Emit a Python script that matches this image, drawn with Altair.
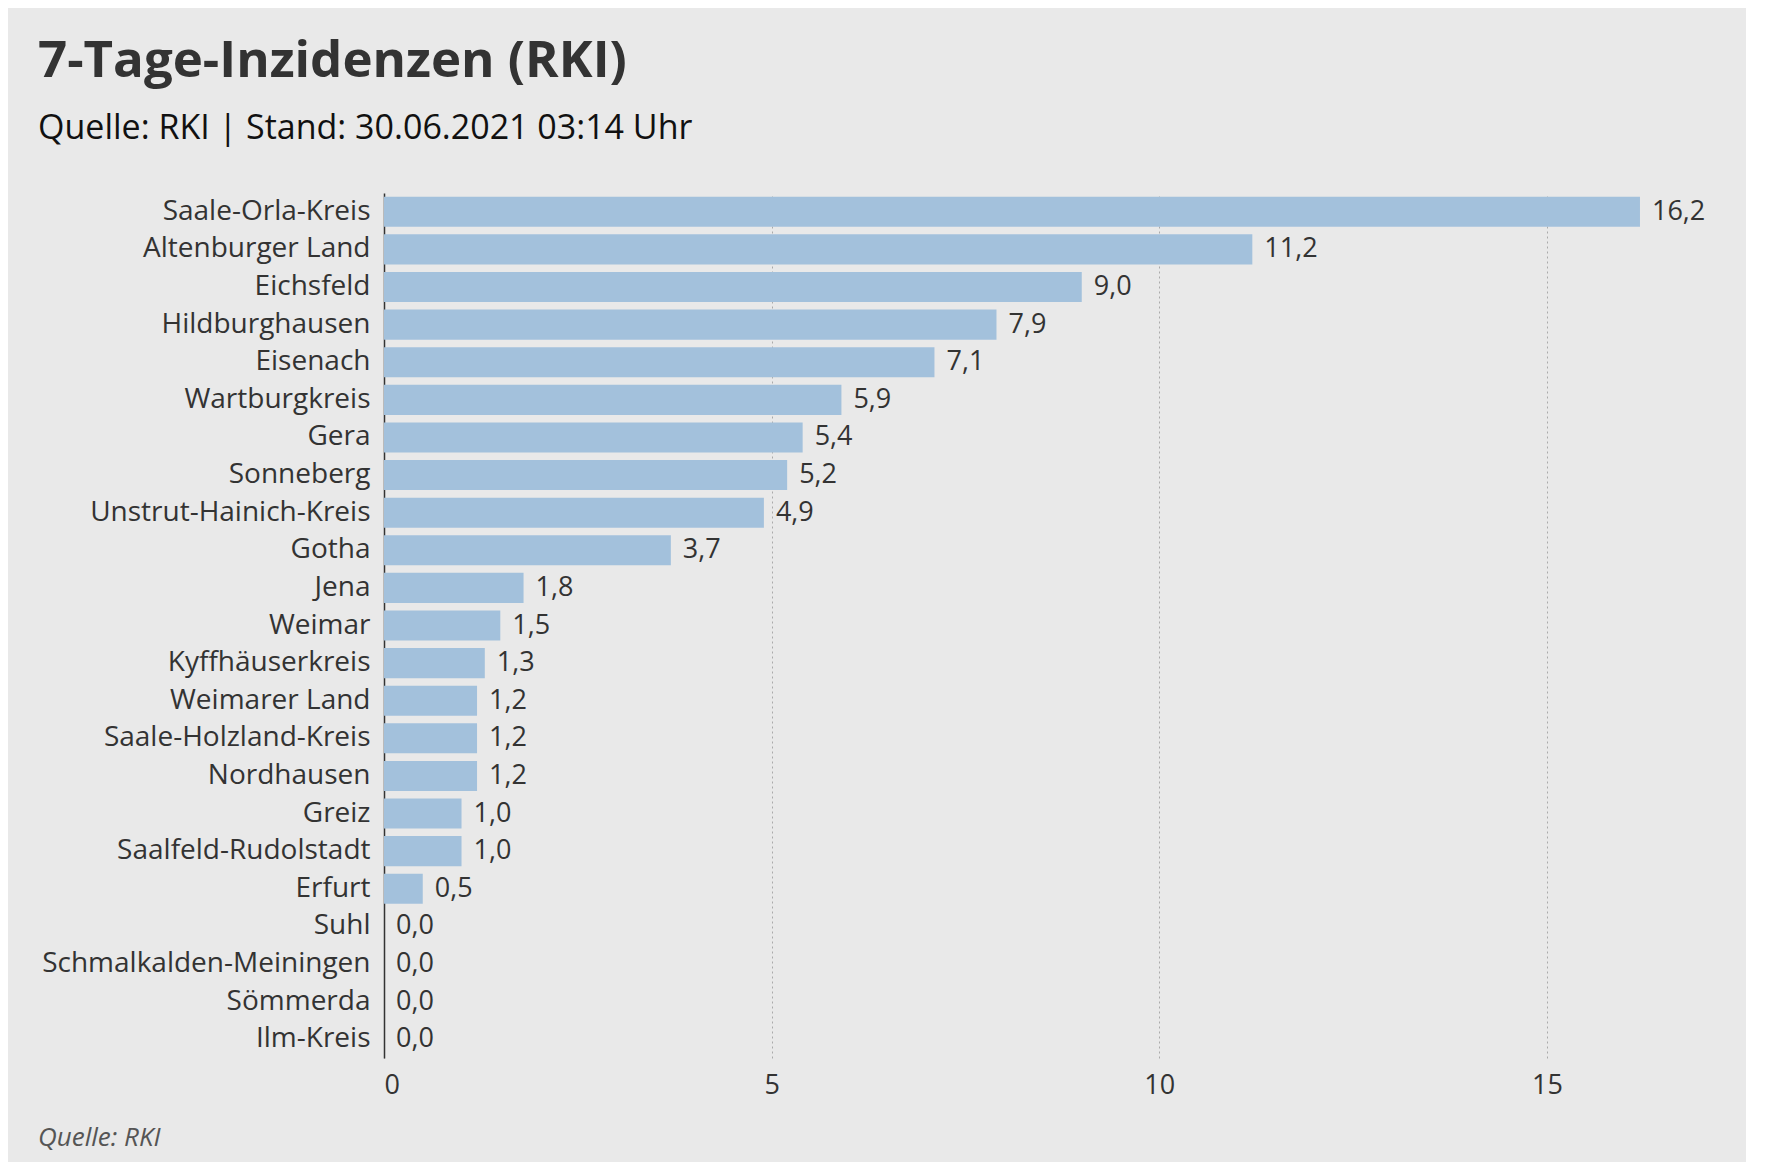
import altair as alt
import pandas as pd

kreise = ['Saale-Orla-Kreis', 'Altenburger Land', 'Eichsfeld', 'Hildburghausen', 'Eisenach',
          'Wartburgkreis', 'Gera', 'Sonneberg', 'Unstrut-Hainich-Kreis', 'Gotha', 'Jena',
          'Weimar', 'Kyffhäuserkreis', 'Weimarer Land', 'Saale-Holzland-Kreis', 'Nordhausen',
          'Greiz', 'Saalfeld-Rudolstadt', 'Erfurt', 'Suhl', 'Schmalkalden-Meiningen',
          'Sömmerda', 'Ilm-Kreis']
inzidenz = [16.2, 11.2, 9.0, 7.9, 7.1, 5.9, 5.4, 5.2, 4.9, 3.7, 1.8, 1.5, 1.3, 1.2, 1.2,
            1.2, 1.0, 1.0, 0.5, 0.0, 0.0, 0.0, 0.0]

df = pd.DataFrame({'kreis': kreise, 'wert': inzidenz})
df['label'] = [f'{v:.1f}'.replace('.', ',') for v in inzidenz]

FONT = 'Open Sans'

base = alt.Chart(df).encode(
    y=alt.Y('kreis:N', sort=kreise, title=None,
            scale=alt.Scale(paddingInner=0.2, paddingOuter=0.1),
            axis=alt.Axis(labelFontSize=28, labelColor='#333', labelLimit=600,
                          labelPadding=14, ticks=False, domainColor='#333',
                          domainWidth=1.5)),
)

bars = base.mark_bar(color='#a3c1dc').encode(
    x=alt.X('wert:Q', title=None, scale=alt.Scale(domain=[0, 17], nice=False),
            axis=alt.Axis(values=[0, 5, 10, 15], format='d', labelFontSize=27,
                          labelColor='#333', domain=False, ticks=False, labelPadding=14,
                          grid=True, gridDash=[2, 3], gridColor='#aaa'))
)

text = base.mark_text(align='left', dx=12, fontSize=27, color='#333', font=FONT).encode(
    x='wert:Q', text='label:N'
)

quelle = alt.Chart(pd.DataFrame({'t': ['Quelle: RKI']})).mark_text(
    align='left', fontSize=26, fontStyle='italic', color='#555', font=FONT
).encode(x=alt.value(-346), y=alt.value(945), text='t:N')

chart = alt.layer(bars, text, quelle).properties(
    width=1318, height=865,
    background='#e9e9e9',
    padding={'left': 30, 'top': 28, 'right': 40, 'bottom': 30},
    title=alt.TitleParams(
        '7-Tage-Inzidenzen (RKI)',
        subtitle='Quelle: RKI | Stand: 30.06.2021 03:14 Uhr',
        anchor='start', frame='bounds', fontSize=51, fontWeight='bold', color='#333',
        subtitleFontSize=34, subtitleColor='#111', subtitlePadding=24, offset=46,
        font=FONT, subtitleFont=FONT,
    ),
).configure_view(stroke=None).configure_axis(labelFont=FONT)

chart.save('out.html', embed_options={'renderer': 'svg', 'actions': False})
